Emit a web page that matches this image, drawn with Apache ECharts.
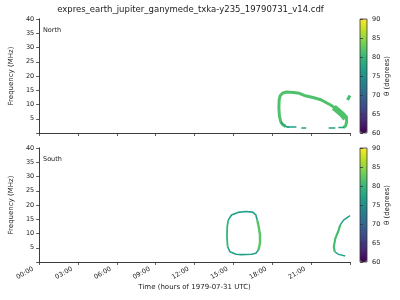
<!DOCTYPE html>
<html>
<head>
<meta charset="utf-8">
<script src="https://cdn.jsdelivr.net/npm/echarts@6/dist/echarts.min.js"></script>
<style>html,body{margin:0;padding:0;background:#fff}#c{width:400px;height:300px}</style>
</head>
<body>
<div id="c"></div>
<script>
// ---------- data (hours of day, frequency MHz) ----------
const titleText = 'expres_earth_jupiter_ganymede_txka-y235_19790731_v14.cdf';
const timeTicks = [0, 3, 6, 9, 12, 15, 18, 21];
const freqTicks = [5, 10, 15, 20, 25, 30, 35, 40];
const thetaTicks = [60, 65, 70, 75, 80, 85, 90];
const panelNames = ['North', 'South'];

// North panel arcs
const northOutline = [[19.04,2.28],[18.81,2.98],[18.66,3.86],[18.55,5.96],[18.51,8.77],[18.53,11.58],[18.62,13.16],[18.81,14.04],[19.11,14.39],[19.64,14.21],[20.09,13.93],[20.47,13.16],[21.14,12.46],[21.75,11.68],[22.5,9.82],[23.0,8.35],[23.44,6.77],[23.72,5.61],[23.74,3.86],[23.66,2.46],[23.48,1.93]];
const northOutlineTheta = 81.5;
const northLobe = [[22.75,9.0],[23.0,8.07],[23.4,6.5],[23.66,5.1]];
const northLobeTheta = 81.5;
const northLowerLeft = [[18.66,3.86],[18.81,2.98],[19.04,2.28],[19.3,2.0]];
const northLowerLeftTheta = 78;
const northBottom = [[19.11,2.1],[19.86,2.1],'-',[20.24,1.75],[20.62,1.75],'-',[22.35,1.75],[22.87,1.75],'-',[23.1,1.93],[23.55,1.93]];
const northBottomTheta = 77;
const northEdge = [[23.81,11.58],[23.9,12.4],[24.0,13.16]];
const northEdgeTheta = 81;

// South panel arcs
const southLoopTop = [[14.6,14.7],[14.85,16.5],[15.35,17.4],[15.95,17.7],[16.48,17.5],[16.73,16.5],[16.85,14.5]];
const southLoopTopTheta = 77;
const southLoopRight = [[16.85,14.5],[16.95,12.4],[17.05,9.5],[17.05,6.6],[16.93,4.2]];
const southLoopRightTheta = 82;
const southLoopBottom = [[16.93,4.2],[16.73,3.05],[16.4,2.7],[15.6,2.6],[15.2,2.7],[14.73,3.6],[14.55,5.4]];
const southLoopBottomTheta = 77;
const southLoopLeft = [[14.55,5.4],[14.5,9.0],[14.52,12.4],[14.6,14.7]];
const southLoopLeftTheta = 80;
const southArcTop = [[24.0,16.3],[23.93,15.9],[23.5,14.7],[23.25,13.0]];
const southArcTopTheta = 77;
const southArcMid = [[23.25,13.0],[23.08,10.6],[22.87,8.3],[22.75,5.4],[22.82,3.6]];
const southArcMidTheta = 81;
const southArcBottom = [[22.82,3.6],[23.12,2.7],[23.63,2.1]];
const southArcBottomTheta = 77;

// ---------- styling / layout ----------
const viridis = ['#440154','#482878','#3e4989','#31688e','#26828e','#1f9e89','#35b779','#6ece58','#b5de2b','#fde725'];
const TH_MIN = 60, TH_MAX = 90;
function hex2rgb(h){return [parseInt(h.substr(1,2),16),parseInt(h.substr(3,2),16),parseInt(h.substr(5,2),16)];}
function thetaColor(t){
  let v = (t - TH_MIN) / (TH_MAX - TH_MIN);
  v = Math.max(0, Math.min(1, v));
  const p = v * (viridis.length - 1);
  const i = Math.min(Math.floor(p), viridis.length - 2);
  const f = p - i;
  const a = hex2rgb(viridis[i]), b = hex2rgb(viridis[i+1]);
  const c = a.map((x,k)=>Math.round(x + (b[k]-x)*f));
  return 'rgb(' + c.join(',') + ')';
}
const FONT = 'DejaVu Sans';
const AX = '#333';
const TXT = '#222';
const PL = 31, PW = 319, PH = 114, TOPS = [19, 148];
const CBL = 360, CBW = 7;

function pad2(n){return (n<10?'0':'')+n;}

const grids = [], xAxes = [], yAxes = [], visualMaps = [], series = [];
TOPS.forEach((top, p) => {
  grids.push({left: PL, top: top, width: PW, height: PH});
  xAxes.push({
    type: 'value', gridIndex: p, min: 0, max: 24, interval: 3,
    axisLine: {show: true, onZero: false, lineStyle: {color: AX, width: 0.8}},
    axisTick: {show: true, length: 3, lineStyle: {color: AX, width: 0.8}},
    splitLine: {show: false},
    axisLabel: {
      show: p === 1, rotate: 30, fontSize: 6.5, fontFamily: FONT, color: TXT, margin: 3,
      padding: [0, 7, 0, 0],
      formatter: v => timeTicks.indexOf(v) >= 0 ? pad2(v) + ':00' : ''
    },
    name: p === 1 ? 'Time (hours of 1979-07-31 UTC)' : '',
    nameLocation: 'middle', nameGap: 21,
    nameTextStyle: {fontSize: 7, fontFamily: FONT, color: TXT}
  });
  yAxes.push({
    type: 'value', gridIndex: p, min: 0, max: 40, interval: 5,
    axisLine: {show: true, lineStyle: {color: AX, width: 0.8}},
    axisTick: {show: true, length: 3, lineStyle: {color: AX, width: 0.8}},
    splitLine: {show: false},
    axisLabel: {fontSize: 6.5, fontFamily: FONT, color: TXT, margin: 5,
      formatter: v => freqTicks.indexOf(v) >= 0 ? String(v) : ''},
    name: 'Frequency (MHz)', nameLocation: 'middle', nameGap: 17, nameRotate: 90,
    nameTextStyle: {fontSize: 7, fontFamily: FONT, color: TXT}
  });
});
// right spine & top spine for plot panels
TOPS.forEach((top, p) => {
  xAxes.push({type:'value', gridIndex:p, min:0, max:24, position:'top', axisLine:{show:true, lineStyle:{color:AX,width:0.8}}, axisTick:{show:false}, axisLabel:{show:false}, splitLine:{show:false}});
  yAxes.push({type:'value', gridIndex:p, min:0, max:40, position:'right', axisLine:{show:true, lineStyle:{color:AX,width:0.8}}, axisTick:{show:false}, axisLabel:{show:false}, splitLine:{show:false}});
});
// colorbar grids
TOPS.forEach((top, p) => {
  const g = grids.length;
  grids.push({left: CBL, top: top, width: CBW, height: PH, show: true, borderColor: AX, borderWidth: 0.8, z: 10, backgroundColor: 'transparent'});
  xAxes.push({type: 'value', gridIndex: g, min: 0, max: 1, show: false});
  yAxes.push({
    type: 'value', gridIndex: g, min: TH_MIN, max: TH_MAX, interval: 5, position: 'right', z: 10,
    axisLine: {show: false},
    axisTick: {show: true, length: 3, lineStyle: {color: AX, width: 0.8}},
    splitLine: {show: false},
    axisLabel: {fontSize: 6.5, fontFamily: FONT, color: TXT, margin: 5,
      formatter: v => thetaTicks.indexOf(v) >= 0 ? String(v) : ''},
    name: 'θ (degrees)', nameLocation: 'middle', nameGap: 17, nameRotate: 90,
    nameTextStyle: {fontSize: 7, fontFamily: FONT, color: TXT}
  });
});

function addLine(panel, pts, theta, width){
  series.push({
    type: 'line', xAxisIndex: panel, yAxisIndex: panel, data: pts,
    showSymbol: false, symbol: 'none', connectNulls: false, clip: true,
    lineStyle: {color: thetaColor(theta), width: width, cap: 'butt', join: 'round'},
    silent: true, z: 3
  });
}
addLine(0, northOutline, northOutlineTheta, 3);
addLine(0, northLobe, northLobeTheta, 6);
addLine(0, northLowerLeft, northLowerLeftTheta, 1.5);
addLine(0, northBottom, northBottomTheta, 1.3);
addLine(0, northEdge, northEdgeTheta, 3);
addLine(1, southLoopTop, southLoopTopTheta, 1.6);
addLine(1, southLoopLeft, southLoopLeftTheta, 1.8);
addLine(1, southLoopBottom, southLoopBottomTheta, 1.6);
addLine(1, southLoopRight, southLoopRightTheta, 2.4);
addLine(1, southArcTop, southArcTopTheta, 1.5);
addLine(1, southArcMid, southArcMidTheta, 2.2);
addLine(1, southArcBottom, southArcBottomTheta, 1.4);

// dummy series for colorbars
const dummyIdx = series.length;
series.push({type: 'scatter', xAxisIndex: 0, yAxisIndex: 0, data: [], silent: true});

TOPS.forEach((top, p) => {
  visualMaps.push({
    type: 'continuous', min: TH_MIN, max: TH_MAX, dimension: 2,
    seriesIndex: [dummyIdx], left: CBL, top: top, itemWidth: CBW, itemHeight: PH,
    padding: 0, calculable: false, text: null, showLabel: false, z: 2,
    inRange: {color: viridis}, hoverLink: false
  });
});

const chart = echarts.init(document.getElementById('c'), null, {renderer: 'canvas'});
chart.setOption({
  animation: false,
  backgroundColor: '#fff',
  grid: grids, xAxis: xAxes, yAxis: yAxes, visualMap: visualMaps, series: series,
  graphic: [
    {type: 'text', x: PL + PW / 2, y: 10, style: {text: titleText, fontSize: 8.5, fontFamily: FONT, fill: TXT, align: 'center', verticalAlign: 'middle'}},
    {type: 'text', x: 43, y: TOPS[0] + 11, style: {text: panelNames[0], fontSize: 6.5, fontFamily: FONT, fill: TXT, verticalAlign: 'middle'}},
    {type: 'text', x: 43, y: TOPS[1] + 11, style: {text: panelNames[1], fontSize: 6.5, fontFamily: FONT, fill: TXT, verticalAlign: 'middle'}}
  ]
});
</script>
</body>
</html>
